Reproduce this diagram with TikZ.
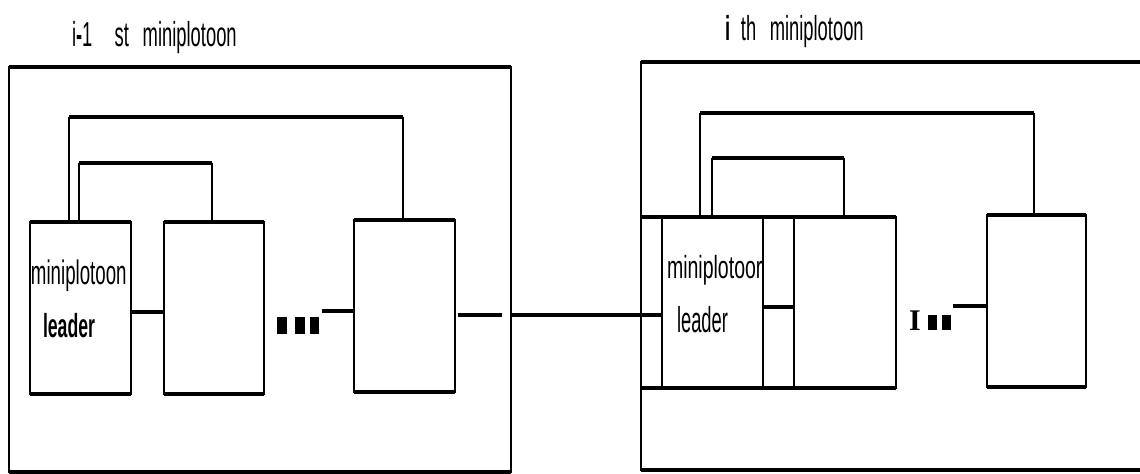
\documentclass[tikz,border=0pt]{standalone}
\usepackage{graphicx}
\usepackage{fontspec}
\setmainfont{Liberation Sans}
\newfontfamily\serifI{Liberation Serif}
\newlength\pu
\setlength\pu{0.75pt}
\tikzset{
  vl/.style={line width=1.7\pu},
  hl/.style={line width=3.2\pu},
  box/.style 2 args={draw, vl, rectangle, inner sep=0pt, outer sep=0pt,
    minimum width=#1\pu, minimum height=#2\pu},
  txt/.style={anchor=base west, inner sep=0pt, outer sep=0pt},
}
% thick top and bottom edges of a box
\newcommand\hedges[1]{\draw[hl] (#1.north west) -- (#1.north east) (#1.south west) -- (#1.south east);}
\begin{document}
\begin{tikzpicture}[x=\pu, y=-\pu]
\useasboundingbox (0,0) rectangle (1140,474);

% ---------------- (i-1)st miniplatoon ----------------
\node[txt] (titleL) at (72,47) {\fontsize{26}{30}\selectfont\scalebox{0.53}[1]{i\textbf{-}1\hspace{42\pu}st\hspace{26\pu}miniplotoon}};
\node[box={502}{405}] (outL) at (260,269.5) {};
\hedges{outL}

\node[box={101}{172}] (b1) at (80.5,308) {};
\node[box={100}{172}] (b2) at (214,308) {};
\node[box={101}{172}] (b3) at (404.5,306) {};
\hedges{b1}\hedges{b2}\hedges{b3}

\node[txt] (b1a) at (31,285) {\fontsize{25.5}{30}\selectfont\scalebox{0.55}[1]{miniplotoon}};
\node[txt] (b1b) at (43,337) {\fontsize{25}{28}\selectfont\bfseries\scalebox{0.53}[1]{leader}};

\node[anchor=north west, inner sep=0pt] (dL) at (277,317)
  {\rule{10\pu}{17\pu}\hspace{8\pu}\rule{10\pu}{17\pu}\hspace{5\pu}\rule{9\pu}{17\pu}};

% feedback loops from the leader
\coordinate (oLa) at (69,117);
\coordinate (oLb) at (403,117);
\coordinate (iLa) at (79,163);
\coordinate (iLb) at (212,163);
\draw[vl] (b1.north -| oLa) -- (oLa);
\draw[hl] (oLa) -- (oLb);
\draw[vl] (oLb) -- (b3.north -| oLb);
\draw[vl] (b1.north -| iLa) -- (iLa);
\draw[hl] (iLa) -- (iLb);
\draw[vl] (iLb) -- (b2.north -| iLb);

% links between vehicles
\coordinate (k12) at (0,312);
\coordinate (k3) at (0,311);
\coordinate (kOut) at (502,315);
\draw[hl] (b1.east |- k12) -- (b2.west |- k12);
\draw[hl] ([xshift=2\pu]dL.north east |- k3) -- (b3.west |- k3);
\draw[hl] ([xshift=3\pu]b3.east |- kOut) -- (kOut);

% ---------------- i-th miniplatoon ----------------
\node[txt] (titleR) at (725.5,41) {\fontsize{26}{30}\selectfont\scalebox{0.53}[1]{\textbf{i}\hspace{19.5\pu}th\hspace{25.5\pu}miniplotoon}};
\node[box={519}{408}] (outR) at (900.5,266) {};
\hedges{outR}

\node[box={21}{171}] (r0) at (651.5,302.5) {};
\node[box={101}{171}] (r1) at (712.5,302.5) {};
\node[box={31}{171}] (r2) at (778.5,302.5) {};
\node[box={102}{171}] (r3) at (845,302.5) {};
\node[box={99}{172}] (b4) at (1036.5,301) {};
\hedges{r0}\hedges{r1}\hedges{r2}\hedges{r3}\hedges{b4}

\node[txt] (r1a) at (667,279) {\fontsize{24}{27}\selectfont\scalebox{0.61}[1]{miniplotoor}};
\node[txt] (r1b) at (677,332) {\fontsize{27}{30}\selectfont\scalebox{0.51}[1]{leader}};

\node[txt] (dR) at (909,330)
  {{\serifI\bfseries\fontsize{22.5}{24}\selectfont I}\hspace{7\pu}\rule{9\pu}{15\pu}\hspace{5\pu}\rule{9\pu}{15\pu}};

\coordinate (oRa) at (700,113);
\coordinate (oRb) at (1034,113);
\coordinate (iRa) at (712,158);
\coordinate (iRb) at (844,158);
\draw[vl] (r1.north -| oRa) -- (oRa);
\draw[hl] (oRa) -- (oRb);
\draw[vl] (oRb) -- (b4.north -| oRb);
\draw[vl] (r1.north -| iRa) -- (iRa);
\draw[hl] (iRa) -- (iRb);
\draw[vl] (iRb) -- (r3.north -| iRb);

\coordinate (k13) at (0,307);
\coordinate (k4) at (0,306);
\draw[hl] (r1.east |- k13) -- (r3.west |- k13);
\draw[hl] ([xshift=2\pu]dR.east |- k4) -- (b4.west |- k4);

% link between the two miniplatoons
\draw[hl] (outL.east |- kOut) -- (r1.west |- kOut);
\end{tikzpicture}
\end{document}
